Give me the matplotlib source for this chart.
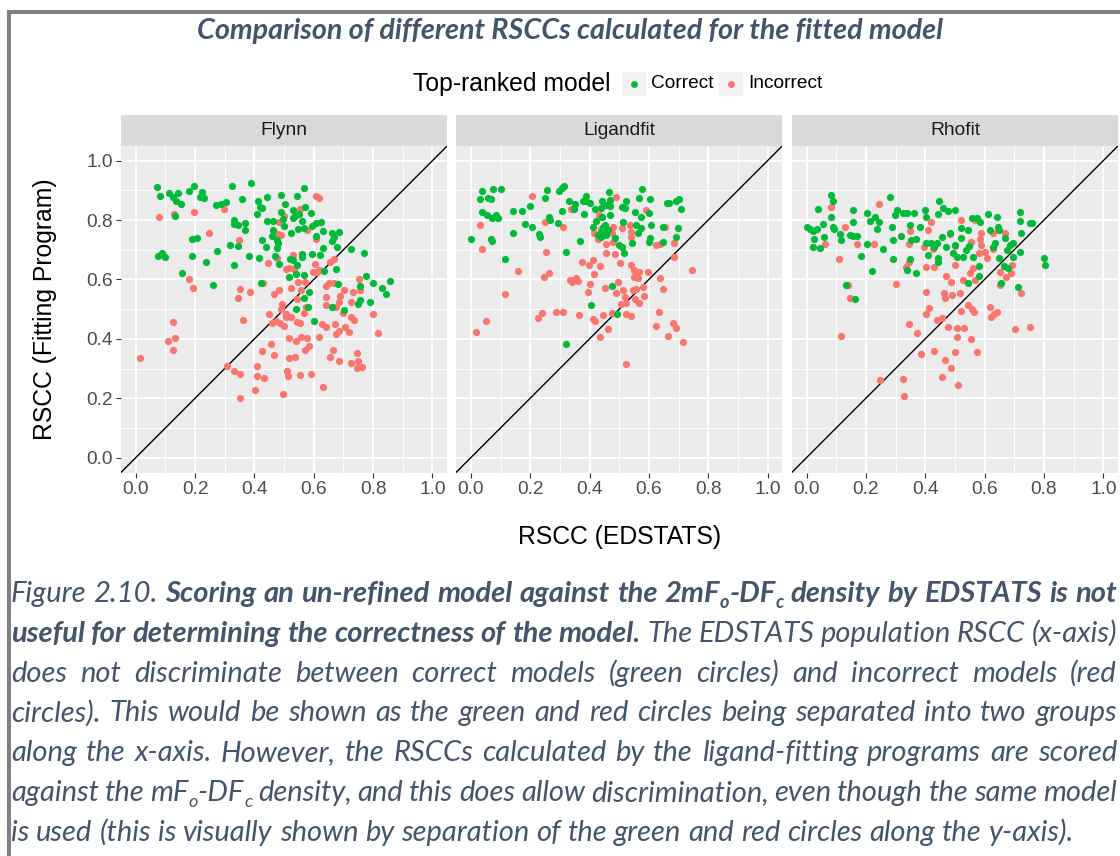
import numpy as np
import matplotlib.pyplot as plt
from matplotlib.patches import Rectangle
from matplotlib.lines import Line2D
from matplotlib.transforms import IdentityTransform

# ============================================================
# Data
# ============================================================

panel_names = ["Flynn", "Ligandfit", "Rhofit"]
legend_labels = ["Correct", "Incorrect"]
tick_values = [0.0, 0.2, 0.4, 0.6, 0.8, 1.0]
tick_labels = ["0.0", "0.2", "0.4", "0.6", "0.8", "1.0"]

flynn_correct = [
    (0.073, 0.912), (0.083, 0.882), (0.075, 0.680), (0.088, 0.688), (0.097, 0.676),
    (0.111, 0.890), (0.126, 0.877), (0.135, 0.865), (0.144, 0.892), (0.153, 0.853),
    (0.134, 0.813), (0.178, 0.898), (0.196, 0.915), (0.217, 0.877), (0.224, 0.894),
    (0.229, 0.873), (0.190, 0.735), (0.207, 0.740), (0.189, 0.678), (0.237, 0.658),
    (0.157, 0.623), (0.261, 0.581), (0.273, 0.695), (0.271, 0.852), (0.286, 0.854),
    (0.303, 0.860), (0.324, 0.915), (0.359, 0.870), (0.387, 0.924), (0.330, 0.801),
    (0.330, 0.786), (0.343, 0.782), (0.369, 0.790), (0.369, 0.767), (0.318, 0.715),
    (0.346, 0.712), (0.332, 0.648), (0.381, 0.678), (0.412, 0.865), (0.420, 0.845),
    (0.425, 0.839), (0.444, 0.877), (0.407, 0.820), (0.442, 0.798), (0.462, 0.798),
    (0.427, 0.733), (0.439, 0.710), (0.415, 0.671), (0.423, 0.589), (0.462, 0.767),
    (0.459, 0.747), (0.476, 0.733), (0.476, 0.707), (0.481, 0.722), (0.471, 0.680),
    (0.483, 0.653), (0.490, 0.886), (0.504, 0.854), (0.489, 0.827), (0.496, 0.805),
    (0.499, 0.779), (0.519, 0.668), (0.516, 0.609), (0.522, 0.758), (0.531, 0.834),
    (0.529, 0.806), (0.536, 0.815), (0.544, 0.881), (0.568, 0.907), (0.549, 0.819),
    (0.560, 0.797), (0.569, 0.845), (0.548, 0.769), (0.567, 0.774), (0.529, 0.666),
    (0.543, 0.649), (0.560, 0.686), (0.562, 0.677), (0.568, 0.616), (0.541, 0.618),
    (0.541, 0.499), (0.566, 0.536), (0.583, 0.559), (0.579, 0.508), (0.600, 0.461),
    (0.591, 0.823), (0.593, 0.780), (0.606, 0.746), (0.607, 0.791), (0.624, 0.795),
    (0.631, 0.764), (0.630, 0.705), (0.622, 0.682), (0.593, 0.686), (0.633, 0.629),
    (0.660, 0.755), (0.663, 0.731), (0.667, 0.742), (0.686, 0.760), (0.679, 0.710),
    (0.676, 0.634), (0.682, 0.585), (0.661, 0.506), (0.701, 0.497), (0.727, 0.703),
    (0.769, 0.688), (0.775, 0.612), (0.755, 0.578), (0.757, 0.531), (0.749, 0.516),
    (0.800, 0.589), (0.789, 0.523), (0.831, 0.572), (0.844, 0.551), (0.857, 0.596),
]
flynn_incorrect = [
    (0.015, 0.337), (0.080, 0.810), (0.128, 0.819), (0.195, 0.826), (0.246, 0.758),
    (0.297, 0.838), (0.348, 0.733), (0.179, 0.600), (0.192, 0.572), (0.124, 0.457),
    (0.108, 0.394), (0.134, 0.404), (0.124, 0.363), (0.352, 0.567), (0.344, 0.538),
    (0.386, 0.558), (0.361, 0.462), (0.309, 0.309), (0.330, 0.292), (0.351, 0.282),
    (0.353, 0.201), (0.403, 0.228), (0.409, 0.276), (0.431, 0.269), (0.409, 0.309),
    (0.425, 0.360), (0.465, 0.346), (0.456, 0.383), (0.449, 0.484), (0.459, 0.455),
    (0.467, 0.551), (0.483, 0.565), (0.445, 0.654), (0.475, 0.671), (0.494, 0.516),
    (0.490, 0.499), (0.485, 0.455), (0.501, 0.443), (0.508, 0.475), (0.497, 0.214),
    (0.510, 0.293), (0.512, 0.276), (0.516, 0.334), (0.516, 0.402), (0.537, 0.340),
    (0.540, 0.394), (0.555, 0.278), (0.590, 0.281), (0.552, 0.455), (0.545, 0.456),
    (0.558, 0.407), (0.569, 0.363), (0.578, 0.402), (0.583, 0.377), (0.616, 0.405),
    (0.630, 0.237), (0.628, 0.450), (0.642, 0.439), (0.655, 0.338), (0.665, 0.363),
    (0.685, 0.325), (0.670, 0.450), (0.676, 0.416), (0.686, 0.428), (0.700, 0.486),
    (0.705, 0.439), (0.718, 0.423), (0.727, 0.475), (0.737, 0.463), (0.726, 0.318),
    (0.746, 0.354), (0.748, 0.327), (0.746, 0.301), (0.763, 0.306), (0.799, 0.484),
    (0.816, 0.419), (0.732, 0.559), (0.755, 0.565), (0.754, 0.603), (0.727, 0.523),
    (0.701, 0.565), (0.688, 0.544), (0.684, 0.525), (0.675, 0.506), (0.650, 0.587),
    (0.640, 0.579), (0.642, 0.542), (0.642, 0.514), (0.667, 0.587), (0.656, 0.660),
    (0.667, 0.669), (0.605, 0.652), (0.597, 0.626), (0.610, 0.624), (0.619, 0.632),
    (0.608, 0.735), (0.578, 0.767), (0.606, 0.881), (0.617, 0.875), (0.552, 0.838),
    (0.483, 0.794), (0.498, 0.814), (0.490, 0.751), (0.478, 0.754), (0.529, 0.681),
    (0.532, 0.634), (0.508, 0.634), (0.523, 0.570), (0.546, 0.593), (0.569, 0.593),
    (0.558, 0.565), (0.574, 0.506), (0.543, 0.534), (0.566, 0.488), (0.523, 0.475),
    (0.516, 0.640), (0.429, 0.589), (0.505, 0.484), (0.474, 0.461),
]

ligandfit_correct = [
    (0.001, 0.736), (0.036, 0.898), (0.031, 0.870), (0.038, 0.828), (0.053, 0.817),
    (0.059, 0.875), (0.068, 0.870), (0.075, 0.906), (0.100, 0.903), (0.073, 0.806),
    (0.084, 0.816), (0.090, 0.806), (0.068, 0.735), (0.073, 0.731), (0.115, 0.669),
    (0.142, 0.831), (0.142, 0.755), (0.174, 0.832), (0.182, 0.787), (0.198, 0.847),
    (0.205, 0.778), (0.230, 0.752), (0.232, 0.744), (0.250, 0.874), (0.258, 0.902),
    (0.264, 0.811), (0.267, 0.800), (0.295, 0.791), (0.297, 0.897), (0.306, 0.908),
    (0.313, 0.915), (0.306, 0.829), (0.322, 0.692), (0.322, 0.382), (0.331, 0.865),
    (0.346, 0.836), (0.351, 0.853), (0.369, 0.729), (0.378, 0.864), (0.380, 0.822),
    (0.387, 0.881), (0.389, 0.865), (0.400, 0.859), (0.420, 0.836), (0.423, 0.796),
    (0.412, 0.778), (0.428, 0.749), (0.439, 0.761), (0.443, 0.865), (0.439, 0.842),
    (0.443, 0.811), (0.447, 0.776), (0.454, 0.852), (0.466, 0.896), (0.470, 0.868),
    (0.470, 0.847), (0.468, 0.817), (0.462, 0.767), (0.457, 0.750), (0.487, 0.738),
    (0.499, 0.716), (0.508, 0.710), (0.515, 0.688), (0.510, 0.843), (0.522, 0.865),
    (0.512, 0.795), (0.520, 0.840), (0.544, 0.724), (0.553, 0.828), (0.557, 0.783),
    (0.563, 0.755), (0.574, 0.772), (0.574, 0.811), (0.568, 0.873), (0.577, 0.903),
    (0.604, 0.870), (0.602, 0.825), (0.607, 0.783), (0.604, 0.738), (0.600, 0.727),
    (0.647, 0.776), (0.660, 0.859), (0.667, 0.857), (0.647, 0.725), (0.697, 0.772),
    (0.692, 0.742), (0.692, 0.865), (0.703, 0.870), (0.709, 0.838), (0.476, 0.578),
    (0.406, 0.513), (0.492, 0.483), (0.439, 0.744), (0.452, 0.785),
]
ligandfit_incorrect = [
    (0.019, 0.422), (0.050, 0.461), (0.030, 0.783), (0.038, 0.701), (0.115, 0.552),
    (0.160, 0.630), (0.207, 0.881), (0.250, 0.795), (0.252, 0.694), (0.246, 0.607),
    (0.263, 0.623), (0.227, 0.470), (0.240, 0.486), (0.287, 0.492), (0.311, 0.492),
    (0.311, 0.778), (0.339, 0.838), (0.333, 0.598), (0.342, 0.593), (0.355, 0.604),
    (0.361, 0.596), (0.366, 0.480), (0.375, 0.660), (0.398, 0.649), (0.411, 0.666),
    (0.415, 0.617), (0.434, 0.645), (0.402, 0.585), (0.395, 0.559), (0.411, 0.467),
    (0.417, 0.461), (0.434, 0.407), (0.462, 0.432), (0.447, 0.480), (0.451, 0.570),
    (0.476, 0.488), (0.488, 0.556), (0.497, 0.590), (0.503, 0.657), (0.487, 0.685),
    (0.454, 0.688), (0.454, 0.719), (0.479, 0.727), (0.479, 0.776), (0.476, 0.755),
    (0.488, 0.877), (0.432, 0.817), (0.414, 0.755), (0.510, 0.772), (0.512, 0.565),
    (0.520, 0.542), (0.507, 0.517), (0.523, 0.522), (0.523, 0.315), (0.523, 0.484),
    (0.540, 0.478), (0.535, 0.783), (0.540, 0.760), (0.540, 0.744), (0.540, 0.649),
    (0.549, 0.632), (0.549, 0.609), (0.557, 0.621), (0.568, 0.626), (0.564, 0.604),
    (0.546, 0.565), (0.557, 0.567), (0.566, 0.522), (0.552, 0.534), (0.580, 0.574),
    (0.583, 0.545), (0.591, 0.834), (0.598, 0.624), (0.625, 0.715), (0.636, 0.718),
    (0.636, 0.604), (0.647, 0.568), (0.633, 0.490), (0.625, 0.443), (0.656, 0.776),
    (0.664, 0.410), (0.680, 0.452), (0.683, 0.675), (0.683, 0.722), (0.692, 0.435),
    (0.714, 0.388), (0.746, 0.632), (0.440, 0.770), (0.430, 0.735),
]

rhofit_correct = [
    (0.000, 0.776), (0.011, 0.771), (0.022, 0.764), (0.025, 0.736), (0.022, 0.710),
    (0.047, 0.705), (0.036, 0.769), (0.040, 0.836), (0.056, 0.786), (0.060, 0.742),
    (0.081, 0.883), (0.088, 0.865), (0.084, 0.811), (0.090, 0.778), (0.092, 0.771),
    (0.112, 0.753), (0.115, 0.733), (0.146, 0.750), (0.157, 0.746), (0.171, 0.746),
    (0.155, 0.834), (0.155, 0.795), (0.182, 0.680), (0.133, 0.581), (0.163, 0.535),
    (0.219, 0.627), (0.204, 0.719), (0.204, 0.825), (0.213, 0.797), (0.230, 0.811),
    (0.243, 0.795), (0.236, 0.770), (0.258, 0.701), (0.281, 0.877), (0.288, 0.776),
    (0.290, 0.670), (0.292, 0.733), (0.297, 0.817), (0.306, 0.834), (0.317, 0.746),
    (0.326, 0.823), (0.339, 0.823), (0.337, 0.632), (0.348, 0.669), (0.348, 0.783),
    (0.351, 0.733), (0.362, 0.823), (0.369, 0.623), (0.369, 0.735), (0.382, 0.776),
    (0.399, 0.834), (0.404, 0.811), (0.404, 0.724), (0.410, 0.682), (0.421, 0.722),
    (0.429, 0.710), (0.438, 0.722), (0.444, 0.671), (0.444, 0.660), (0.447, 0.865),
    (0.444, 0.820), (0.461, 0.840), (0.458, 0.744), (0.470, 0.710), (0.478, 0.832),
    (0.483, 0.755), (0.494, 0.688), (0.500, 0.834), (0.500, 0.716), (0.506, 0.677),
    (0.521, 0.772), (0.521, 0.739), (0.526, 0.677), (0.539, 0.699), (0.548, 0.713),
    (0.556, 0.806), (0.562, 0.677), (0.573, 0.806), (0.582, 0.645), (0.584, 0.795),
    (0.545, 0.587), (0.582, 0.612), (0.610, 0.820), (0.618, 0.767), (0.629, 0.710),
    (0.643, 0.811), (0.646, 0.776), (0.649, 0.767), (0.634, 0.724), (0.649, 0.671),
    (0.670, 0.738), (0.657, 0.587), (0.665, 0.645), (0.674, 0.699), (0.685, 0.716),
    (0.697, 0.722), (0.697, 0.677), (0.680, 0.637), (0.712, 0.576), (0.719, 0.827),
    (0.719, 0.798), (0.724, 0.755), (0.753, 0.791), (0.760, 0.791), (0.800, 0.673),
    (0.804, 0.649), (0.719, 0.694), (0.545, 0.767),
]
rhofit_incorrect = [
    (0.063, 0.718), (0.081, 0.845), (0.128, 0.776), (0.110, 0.668), (0.140, 0.581),
    (0.146, 0.536), (0.115, 0.410), (0.171, 0.719), (0.227, 0.719), (0.244, 0.854),
    (0.247, 0.262), (0.303, 0.585), (0.324, 0.264), (0.328, 0.208), (0.335, 0.643),
    (0.344, 0.660), (0.348, 0.764), (0.346, 0.719), (0.346, 0.450), (0.373, 0.421),
    (0.387, 0.349), (0.395, 0.708), (0.402, 0.559), (0.402, 0.484), (0.413, 0.503),
    (0.404, 0.643), (0.408, 0.767), (0.421, 0.795), (0.427, 0.701), (0.429, 0.643),
    (0.429, 0.360), (0.440, 0.464), (0.456, 0.469), (0.456, 0.273), (0.463, 0.553),
    (0.467, 0.536), (0.466, 0.329), (0.478, 0.439), (0.470, 0.612), (0.483, 0.753),
    (0.487, 0.303), (0.487, 0.593), (0.489, 0.548), (0.500, 0.713), (0.500, 0.649),
    (0.500, 0.357), (0.506, 0.435), (0.508, 0.407), (0.509, 0.245), (0.517, 0.556),
    (0.522, 0.800), (0.522, 0.495), (0.530, 0.435), (0.528, 0.598), (0.545, 0.514),
    (0.551, 0.621), (0.556, 0.499), (0.553, 0.398), (0.564, 0.492), (0.573, 0.355),
    (0.562, 0.637), (0.553, 0.727), (0.567, 0.800), (0.582, 0.690), (0.584, 0.735),
    (0.589, 0.758), (0.589, 0.716), (0.567, 0.598), (0.601, 0.694), (0.607, 0.671),
    (0.618, 0.508), (0.620, 0.475), (0.631, 0.484), (0.643, 0.492), (0.629, 0.755),
    (0.629, 0.701), (0.652, 0.624), (0.652, 0.581), (0.669, 0.755), (0.672, 0.607),
    (0.688, 0.621), (0.694, 0.649), (0.702, 0.432), (0.724, 0.553), (0.753, 0.441),
]

panel_data = [
    (flynn_correct, flynn_incorrect),
    (ligandfit_correct, ligandfit_incorrect),
    (rhofit_correct, rhofit_incorrect),
]

title_text = "Comparison of different RSCCs calculated for the fitted model"
legend_title = "Top-ranked model"
x_title = "RSCC (EDSTATS)"
y_title = "RSCC (Fitting Program)"

# caption runs: (text, style) with b = bold, s = subscript
caption_lines = [
    [("Figure 2.10. ", ""), ("Scoring an un-refined model against the 2mF", "b"), ("o", "bs"),
     ("-DF", "b"), ("c", "bs"), (" density by EDSTATS is not", "b")],
    [("useful for determining the correctness of the model.", "b"),
     (" The EDSTATS population RSCC (x-axis)", "")],
    [("does not discriminate between correct models (green circles) and incorrect models (red", "")],
    [("circles). This would be shown as the green and red circles being separated into two groups", "")],
    [("along the x-axis. However, the RSCCs calculated by the ligand-fitting programs are scored", "")],
    [("against the mF", ""), ("o", "s"), ("-DF", ""), ("c", "s"),
     (" density, and this does allow discrimination, even though the same model", "")],
    [("is used (this is visually shown by separation of the green and red circles along the y-axis).", "")],
]

# ============================================================
# Style
# ============================================================

W, H = 1120, 856
GREEN, RED = "#00BA38", "#F8766D"
CAP_COL = "#44546A"
SANS = "Liberation Sans"
CAP_FONT = "Lato"

fig = plt.figure(figsize=(W / 100, H / 100), dpi=100)
fig.patch.set_facecolor("white")
renderer = fig.canvas.get_renderer()
ident = IdentityTransform()


def put(x, y, s, **kw):
    # x, y in pixels measured from the top-left corner
    return fig.text(x, H - y, s, transform=ident, **kw)


def width_of(s, **kw):
    t = fig.text(0, 0, s, transform=ident, **kw)
    w = t.get_window_extent(renderer).width
    t.remove()
    return w


# ============================================================
# Frame around the figure
# ============================================================

fig.add_artist(Line2D([8.5, 8.5, W + 5], [-5, H - 11.5, H - 11.5], transform=ident,
                      color="#808080", lw=2.9, solid_joinstyle="miter"))

# ============================================================
# Title
# ============================================================

tkw = dict(family=CAP_FONT, style="italic", weight="bold", color=CAP_COL)
fs_title = 20 * 745 / width_of(title_text, fontsize=20, **tkw)
put(570, 39, title_text, ha="center", va="baseline", fontsize=fs_title, **tkw)

# ============================================================
# Legend
# ============================================================

put(413, 84, legend_title, ha="left", va="center", fontsize=17.8, family=SANS, color="black")
key_x = [622, 719]
for kx, lab, col in zip(key_x, legend_labels, [GREEN, RED]):
    fig.add_artist(Rectangle((kx, H - 96), 24, 24, transform=ident,
                             facecolor="#F2F2F2", edgecolor="none"))
    fig.add_artist(Line2D([kx + 12], [H - 84], transform=ident, marker="o", ms=4.9,
                          color=col, mew=0, ls="none"))
    put(kx + 29, 84, lab, ha="left", va="center", fontsize=13.8, family=SANS, color="black")

# ============================================================
# Facet panels
# ============================================================

x_lefts = [120.9, 456.0, 791.7]
pw = 326.4
p_top, p_bot = 145.8, 472.5
strip_top = 115.0
strip_h = (p_top - strip_top) / (p_bot - p_top)
minor = [0.1, 0.3, 0.5, 0.7, 0.9]

for i, (name, (good, bad)) in enumerate(zip(panel_names, panel_data)):
    ax = fig.add_axes([x_lefts[i] / W, 1 - p_bot / H, pw / W, (p_bot - p_top) / H])
    ax.set_facecolor("#EBEBEB")
    ax.set_xlim(-0.05, 1.05)
    ax.set_ylim(-0.05, 1.05)
    ax.set_xticks(tick_values)
    ax.set_xticklabels(tick_labels)
    ax.set_yticks(tick_values)
    ax.set_yticklabels(tick_labels)
    ax.set_xticks(minor, minor=True)
    ax.set_yticks(minor, minor=True)
    ax.grid(which="major", color="white", lw=1.35)
    ax.grid(which="minor", color="white", lw=0.65)
    ax.set_axisbelow(True)
    for sp in ax.spines.values():
        sp.set_visible(False)
    ax.tick_params(which="major", length=3.3, width=0.8, color="#333333",
                   labelcolor="#4D4D4D", labelsize=13.8, pad=2.5)
    ax.tick_params(which="minor", length=0)
    for lab in ax.get_xticklabels() + ax.get_yticklabels():
        lab.set_family(SANS)
    if i > 0:
        ax.tick_params(axis="y", which="both", left=False, labelleft=False)

    ax.axline((0, 0), (1, 1), color="black", lw=1.0, zorder=2)

    gx, gy = np.array(good).T
    bx, by = np.array(bad).T
    ax.scatter(bx, by, s=27, c=RED, linewidths=0, zorder=3)
    ax.scatter(gx, gy, s=27, c=GREEN, linewidths=0, zorder=3)

    ax.add_patch(Rectangle((0, 1), 1, strip_h, transform=ax.transAxes,
                           facecolor="#D9D9D9", edgecolor="none", clip_on=False))
    ax.text(0.5, 1 + strip_h / 2, name, transform=ax.transAxes, ha="center",
            va="center", fontsize=13.8, family=SANS, color="#1A1A1A")

put(619.6, 537, x_title, ha="center", va="center", fontsize=17.8, family=SANS)
put(45, 309, y_title, ha="center", va="center", rotation=90, fontsize=17.8, family=SANS)

# ============================================================
# Caption (justified, with subscripts)
# ============================================================

CAP_L, CAP_R = 11, 1117


def cap_kw(style, fs):
    kw = dict(family=CAP_FONT, style="italic", color=CAP_COL,
              weight="bold" if "b" in style else "normal", fontsize=fs)
    if "s" in style:
        kw["fontsize"] = fs * 0.62
    return kw


def chunks_of(runs):
    chunks = [[]]
    for text, style in runs:
        for k, part in enumerate(text.split(" ")):
            if k > 0:
                chunks.append([])
            if part:
                chunks[-1].append((part, style))
    return [c for c in chunks if c]


probe = caption_lines[-1][0][0]
fs_cap = 20 * 1060 / width_of(probe, **cap_kw("", 20))
space_w = width_of("a a", **cap_kw("", fs_cap)) - width_of("aa", **cap_kw("", fs_cap))

for n, runs in enumerate(caption_lines):
    y = 602 + 39.8 * n
    chunks = chunks_of(runs)
    widths = []
    for c in chunks:
        widths.append([width_of(p, **cap_kw(st, fs_cap)) for p, st in c])
    total = sum(sum(w) for w in widths)
    last = n == len(caption_lines) - 1
    gap = space_w if last else (CAP_R - CAP_L - total) / (len(chunks) - 1)
    x = CAP_L
    for c, ws in zip(chunks, widths):
        for (p, st), w in zip(c, ws):
            dy = fs_cap * 100 / 72 * 0.2 if "s" in st else 0
            put(x, y + dy, p, ha="left", va="baseline", **cap_kw(st, fs_cap))
            x += w
        x += gap

fig.savefig("out.png", dpi=100)
